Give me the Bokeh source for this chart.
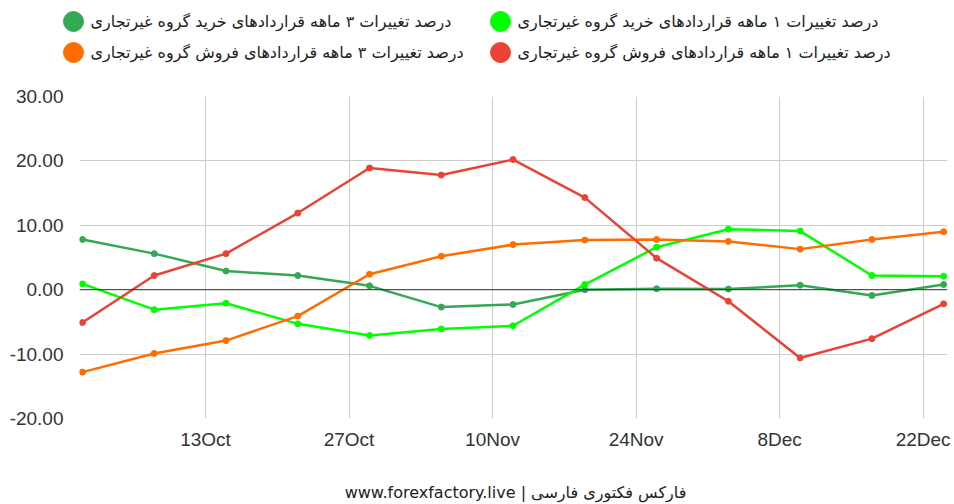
import pandas as pd
from bokeh.plotting import figure
from bokeh.layouts import column
from bokeh.models import (FixedTicker, DatetimeTickFormatter, Range1d, Span,
                          ColumnDataSource, NumeralTickFormatter)
from bokeh.core.properties import value
from bokeh.embed import file_html
from bokeh.resources import INLINE

# ---------------- data ----------------
dates = ["2024-10-01", "2024-10-08", "2024-10-15", "2024-10-22", "2024-10-29",
         "2024-11-05", "2024-11-12", "2024-11-19", "2024-11-26", "2024-12-03",
         "2024-12-10", "2024-12-17", "2024-12-24"]
buy_1m = [0.9, -3.1, -2.1, -5.3, -7.1, -6.1, -5.6, 0.8, 6.6, 9.4, 9.1, 2.2, 2.1]
buy_3m = [7.8, 5.6, 2.9, 2.2, 0.6, -2.7, -2.3, 0.0, 0.15, 0.1, 0.7, -0.9, 0.8]
sell_1m = [-5.1, 2.2, 5.6, 11.9, 18.9, 17.8, 20.2, 14.3, 4.9, -1.8, -10.6, -7.6, -2.2]
sell_3m = [-12.8, -9.9, -7.9, -4.1, 2.4, 5.2, 7.0, 7.7, 7.8, 7.5, 6.3, 7.8, 9.0]

series_keys = ["buy_3m", "buy_1m", "sell_3m", "sell_1m"]
series_colors = ["#34a853", "#00ff00", "#ff6d01", "#ea4335"]
series_labels = [
    "درصد تغییرات ۳ ماهه قراردادهای خرید گروه غیرتجاری",
    "درصد تغییرات ۱ ماهه قراردادهای خرید گروه غیرتجاری",
    "درصد تغییرات ۳ ماهه قراردادهای فروش گروه غیرتجاری",
    "درصد تغییرات ۱ ماهه قراردادهای فروش گروه غیرتجاری",
]

x_tick_dates = ["2024-10-13", "2024-10-27", "2024-11-10", "2024-11-24", "2024-12-08", "2024-12-22"]
y_ticks = [-20, -10, 0, 10, 20, 30]
footer = "www.forexfactory.live | فارکس فکتوری فارسی"

W = 954
H = 504
LEG_H = 76
FOOT_H = 26
FRAME_L = 79
FRAME_R = 7

# ---------------- legend strip (2 x 2 grid) ----------------
leg_cols_x = [73, 500]      # circle centres (page px)
leg_rows_y = [21, 52]
leg = figure(width=W, height=LEG_H, x_range=Range1d(0, W), y_range=Range1d(LEG_H, 0),
             output_backend="svg", toolbar_location=None,
             x_axis_location=None, y_axis_location=None, min_border=0)
leg.frame_align = False
leg.outline_line_color = None
leg.xgrid.visible = False
leg.ygrid.visible = False
lx, ly, tx = [], [], []
for i in range(4):
    cx = leg_cols_x[i % 2]
    cy = leg_rows_y[i // 2]
    lx.append(cx); ly.append(cy); tx.append(cx + 17)
leg_src = ColumnDataSource(dict(x=lx, y=ly, tx=tx, color=series_colors, label=series_labels))
leg.scatter("x", "y", source=leg_src, size=20, fill_color="color", line_color="color")
leg.text("tx", "y", text="label", source=leg_src, text_font=value("DejaVu Sans"),
         text_font_size="16px", text_color="#222222", text_baseline="middle", text_align="left")

# ---------------- main chart ----------------
x = pd.to_datetime(dates)
src = ColumnDataSource(dict(x=x, buy_1m=buy_1m, buy_3m=buy_3m, sell_1m=sell_1m, sell_3m=sell_3m))

x_start = x[0] - pd.Timedelta(hours=7)
x_end = x[-1] + pd.Timedelta(hours=9)

MAIN_H = H - LEG_H - FOOT_H
p = figure(width=W, height=MAIN_H, x_axis_type="datetime",
           x_range=Range1d(x_start, x_end), y_range=Range1d(-20, 30),
           output_backend="svg", toolbar_location=None,
           min_border_left=FRAME_L, min_border_right=FRAME_R,
           min_border_top=20, min_border_bottom=60)
p.frame_align = False
p.outline_line_color = None

for ax in (p.xaxis[0], p.yaxis[0]):
    ax.axis_line_color = None
    ax.major_tick_line_color = None
    ax.minor_tick_line_color = None
    ax.major_label_text_font = "Liberation Sans"
    ax.major_label_text_font_size = "19px"
    ax.major_label_text_color = "#333333"

p.xaxis.ticker = FixedTicker(ticks=[pd.Timestamp(d).timestamp() * 1000 for d in x_tick_dates])
fmt = "%-d%b"
p.xaxis.formatter = DatetimeTickFormatter(days=fmt, months=fmt, years=fmt, hours=fmt,
                                          hourmin=fmt, minutes=fmt, minsec=fmt,
                                          seconds=fmt, milliseconds=fmt, microseconds=fmt)
p.xaxis.major_label_standoff = 4
p.yaxis.ticker = FixedTicker(ticks=y_ticks)
p.yaxis.formatter = NumeralTickFormatter(format="0.00")
p.yaxis.major_label_standoff = 10

p.xgrid.grid_line_color = "#cccccc"
p.ygrid.grid_line_color = "#cccccc"

p.add_layout(Span(location=0, dimension="width", line_color="#333333", line_width=1))

for key, color in zip(series_keys, series_colors):
    p.line("x", key, source=src, line_color=color, line_width=2.5)
    p.scatter("x", key, source=src, size=6, fill_color=color, line_color=color)

# ---------------- footer strip ----------------
foot = figure(width=W, height=FOOT_H, x_range=Range1d(0, W), y_range=Range1d(FOOT_H, 0),
              output_backend="svg", toolbar_location=None,
              x_axis_location=None, y_axis_location=None, min_border=0)
foot.frame_align = False
foot.outline_line_color = None
foot.xgrid.visible = False
foot.ygrid.visible = False
foot_src = ColumnDataSource(dict(x=[515], y=[14], t=[footer]))
foot.text("x", "y", text="t", source=foot_src, text_font=value("DejaVu Sans"),
          text_font_size="16px", text_color="#222222", text_baseline="middle", text_align="center")

layout = column(leg, p, foot, spacing=0)
open("out.html", "w").write(file_html(layout, INLINE))
